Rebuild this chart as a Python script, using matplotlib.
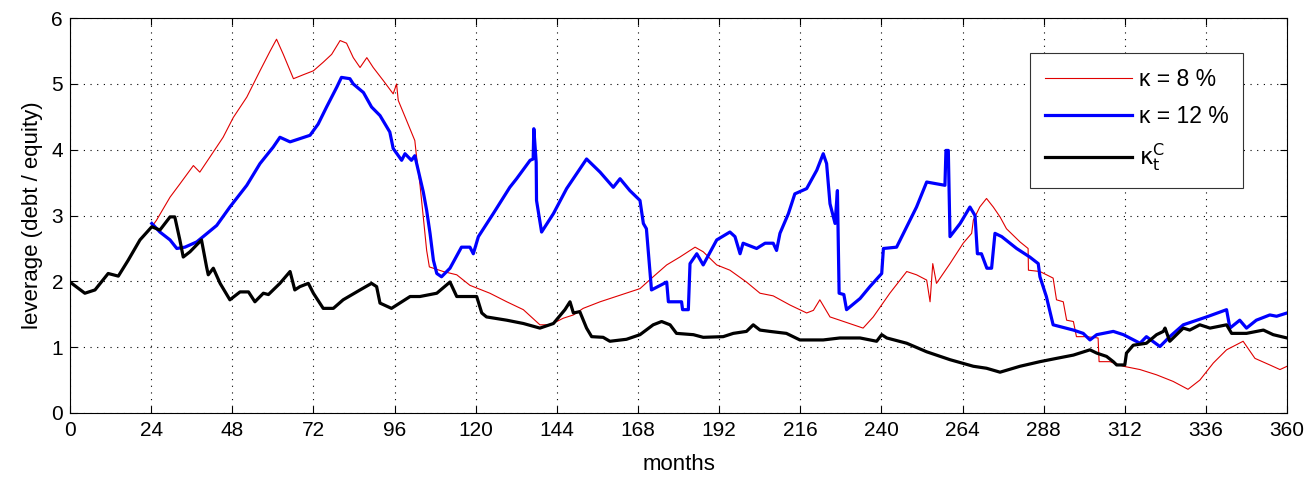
import numpy as np
import matplotlib.pyplot as plt

plt.rcParams['font.family'] = ['Liberation Sans', 'DejaVu Sans']

# kappa_t^C (black)
kc_m = [0, 4.4, 7.4, 11.3, 14.3, 17.2, 20.7, 24.2, 26.6, 29.6, 31, 32.5, 33.5, 35.5, 38.9, 40.4,
        40.9, 42.4, 44.4, 47.3, 50.3, 52.8, 54.7, 57.2, 58.7, 62.1, 65.1, 66.5, 68, 70.5, 72,
        74.9, 77.9, 80.8, 85.8, 89.2, 90.7, 91.7, 95.1, 100.6, 103.5, 108.5, 112.4, 114.4, 120.3,
        121.8, 123.2, 129.2, 134.1, 139, 143, 146.4, 147.9, 148.9, 150.8, 152.8, 154.3, 157.7,
        159.7, 164.6, 168.6, 172.5, 175, 177.5, 179.4, 184.4, 187.3, 193.2, 196.2, 200.1, 202.1,
        204.1, 207, 211.9, 215.9, 222.8, 227.7, 233.7, 238.6, 240.1, 241.6, 247.5, 253.4, 260.3,
        267.2, 271.1, 275.1, 281, 286.9, 291.8, 296.8, 301.7, 303.7, 306.6, 308.6, 309.6, 312,
        312.5, 314.5, 318.4, 321.4, 323.4, 323.9, 325.3, 327.3, 329.3, 331.2, 334.2, 337.2, 342.1,
        343.6, 348, 353, 355.9, 360]
kc_v = [1.99, 1.82, 1.87, 2.12, 2.08, 2.32, 2.63, 2.83, 2.78, 2.98, 2.98, 2.63, 2.37, 2.45, 2.63, 2.22,
        2.10, 2.20, 1.97, 1.72, 1.84, 1.84, 1.69, 1.82, 1.80, 1.97, 2.15, 1.87, 1.92, 1.97, 1.82,
        1.59, 1.59, 1.72, 1.87, 1.97, 1.92, 1.67, 1.59, 1.77, 1.77, 1.82, 1.99, 1.77, 1.77,
        1.52, 1.46, 1.41, 1.36, 1.29, 1.36, 1.57, 1.69, 1.52, 1.54, 1.29, 1.16, 1.15,
        1.09, 1.12, 1.19, 1.34, 1.39, 1.34, 1.21, 1.19, 1.15, 1.16, 1.21, 1.24, 1.34,
        1.26, 1.24, 1.21, 1.11, 1.11, 1.14, 1.14, 1.09, 1.19, 1.14, 1.06, 0.93, 0.81,
        0.71, 0.68, 0.62, 0.71, 0.78, 0.83, 0.88, 0.96, 0.91, 0.86, 0.78, 0.73, 0.73,
        0.91, 1.03, 1.06, 1.19, 1.24, 1.29, 1.09, 1.19, 1.29, 1.26, 1.34, 1.29, 1.34,
        1.21, 1.21, 1.26, 1.19, 1.14]

# kappa = 8 % (red)
k8_m = [24.2, 25.6, 29.6, 32.5, 36.5, 38.4, 41.4, 45.3, 48.3, 52.3, 56.2, 59.2, 61.1, 63.1, 66.1,
        69, 72, 74.9, 77.4, 79.9, 81.8, 83.8, 85.8, 87.8, 89.7, 92.7, 95.6, 96.6, 97.1, 99.6,
        102, 102.5, 103.5, 104.5, 105.5, 106.3, 110.4, 114.4, 118.3, 124.2, 129.2, 134.1, 139,
        142, 145.9, 148.9, 151.8, 156.8, 162.7, 168.6, 172.5, 176.5, 180.4, 184.9, 187.3, 191.3,
        195.2, 200.1, 204.1, 208, 213, 217.9, 219.9, 221.8, 224.8, 227.7, 234.6, 237.6, 242.5,
        247.5, 250.4, 253.4, 254.4, 255.2, 256.3, 260.3, 264.2, 266.7, 267.2, 269.1, 271.1,
        273.1, 275.1, 277, 281, 283.4, 283.5, 286.9, 290.8, 291.8, 293.8, 294.8, 296.8, 297.7,
        300.7, 304.1, 304.4, 307.6, 311.6, 316.5, 321.4, 326.3, 330.7, 334.2, 338.2, 342.1,
        347, 350.5, 354.9, 357.9, 360]
k8_v = [2.83, 2.93, 3.28, 3.48, 3.76, 3.66, 3.89, 4.19, 4.49, 4.80, 5.20, 5.50, 5.68, 5.45, 5.08,
        5.14, 5.20, 5.33, 5.45, 5.66, 5.62, 5.40, 5.25, 5.40, 5.25, 5.05, 4.85, 5.00, 4.75, 4.44,
        4.14, 3.90, 3.48, 2.98, 2.47, 2.22, 2.15, 2.10, 1.94, 1.82, 1.69, 1.57, 1.34,
        1.34, 1.44, 1.49, 1.59, 1.69, 1.79, 1.89, 2.07, 2.25, 2.37, 2.52, 2.45, 2.25,
        2.17, 1.99, 1.82, 1.78, 1.64, 1.52, 1.56, 1.72, 1.46, 1.41, 1.29, 1.46, 1.82,
        2.15, 2.10, 2.02, 1.69, 2.27, 1.97, 2.27, 2.58, 2.73, 2.93, 3.13, 3.26,
        3.13, 2.98, 2.80, 2.60, 2.50, 2.17, 2.15, 2.05, 1.72, 1.69, 1.41, 1.39, 1.16,
        1.16, 1.14, 0.78, 0.78, 0.71, 0.66, 0.58, 0.48, 0.36, 0.50, 0.76, 0.96,
        1.09, 0.83, 0.73, 0.66, 0.71]

# kappa = 12 % (blue)
k12_m = [24.2, 26.6, 29.6, 31.6, 34, 37.5, 39.4, 43.4, 47.3, 52.3, 56.2, 60.1, 62.1, 65.1, 68, 71,
         73.4, 75.9, 78.9, 80.3, 82.8, 83.8, 86.8, 89.2, 91.7, 94.6, 95.6, 98.1, 99.1, 101, 102,
         103, 104.5, 105.5, 106.5, 107.5, 108.5, 109.9, 112.4, 115.8, 118.3, 119.3, 120.8, 125.2,
         130.1, 132.1, 136.1, 137, 137.2, 137.9, 138, 139.5, 143, 146.9, 149.9, 152.8, 156.8,
         160.7, 162.7, 165.6, 168.6, 169.6, 170.5, 172, 176.5, 177, 180.9, 181.2, 182.9, 183.4,
         185.4, 187.3, 191.3, 195.2, 196.7, 198.2, 199.1, 203.1, 205.6, 208, 209, 210, 212.5,
         214.4, 217.9, 220.9, 222.8, 223.8, 224.8, 226.3, 227, 227.5, 228.9, 229.7, 233.7, 236.6,
         240.1, 240.6, 244.5, 247.5, 250.4, 253.4, 258.8, 259.1, 259.8, 260.3, 263.3, 266.2,
         267.7, 268.4, 269.6, 271.2, 272.6, 273.6, 275.6, 280, 283.9, 286.4, 286.9, 288.8, 290.8,
         296.8, 299.7, 301.7, 303.7, 305.6, 308.6, 311.6, 316.5, 318.4, 322.4, 325.3, 329.3,
         332.2, 336.2, 342.1, 343.1, 346, 348, 350.9, 354.9, 356.9, 360]
k12_v = [2.88, 2.75, 2.63, 2.50, 2.52, 2.60, 2.68, 2.85, 3.13, 3.46, 3.79, 4.04, 4.19, 4.12, 4.17, 4.22,
         4.39, 4.65, 4.95, 5.10, 5.08, 5.00, 4.87, 4.65, 4.52, 4.27, 4.02, 3.84, 3.94, 3.84, 3.91,
         3.69, 3.36, 3.08, 2.73, 2.32, 2.12, 2.07, 2.20, 2.52, 2.52, 2.42, 2.68, 3.03,
         3.43, 3.56, 3.84, 3.86, 4.32, 3.81, 3.23, 2.75, 3.03, 3.41, 3.64, 3.86, 3.66,
         3.43, 3.56, 3.38, 3.23, 2.88, 2.80, 1.87, 1.99, 1.69, 1.69, 1.57, 1.57, 2.27,
         2.42, 2.25, 2.63, 2.75, 2.68, 2.42, 2.58, 2.50, 2.58, 2.58, 2.47, 2.73, 3.03,
         3.33, 3.41, 3.69, 3.94, 3.79, 3.18, 2.88, 3.38, 1.82, 1.80, 1.57, 1.74, 1.92,
         2.12, 2.50, 2.52, 2.83, 3.13, 3.51, 3.46, 3.99, 3.99, 2.68, 2.88, 3.13,
         3.00, 2.42, 2.42, 2.20, 2.20, 2.73, 2.68, 2.50, 2.37, 2.27, 2.07, 1.77, 1.34,
         1.26, 1.21, 1.11, 1.19, 1.21, 1.24, 1.19, 1.06, 1.16, 1.01, 1.16, 1.34,
         1.39, 1.46, 1.57, 1.29, 1.41, 1.29, 1.41, 1.49, 1.47, 1.52]

x_ticks = list(range(0, 361, 24))
y_ticks = [0, 1, 2, 3, 4, 5, 6]

fig = plt.figure(figsize=(13.08, 4.78), dpi=100)
ax = fig.add_axes([0.0535, 0.136, 0.9305, 0.826])

ax.plot(k8_m, k8_v, color='#e00000', lw=0.8, label='\u03ba = 8 %')
ax.plot(k12_m, k12_v, color='#0000ff', lw=2.3, label='\u03ba = 12 %')
ax.plot(kc_m, kc_v, color='black', lw=2.3, label=r'$\mathrm{\kappa_t^C}$')

ax.set_xlim(0, 360)
ax.set_ylim(0, 6)
ax.set_xticks(x_ticks)
ax.set_yticks(y_ticks)
ax.tick_params(direction='in', top=True, right=True, labelsize=15, length=5)
ax.tick_params(axis='x', pad=6)
ax.tick_params(axis='y', pad=5)
ax.grid(True, linestyle=(0, (1, 5)), color='black', lw=0.8)
for s in ax.spines.values():
    s.set_linewidth(0.8)

ax.set_xlabel('months', fontsize=16, labelpad=10)
ax.set_ylabel('leverage (debt / equity)', fontsize=16, labelpad=6)

leg = ax.legend(loc='upper right', bbox_to_anchor=(0.964, 0.911), borderaxespad=0,
                fontsize=16.5, handlelength=3.8, labelspacing=0.6, fancybox=False,
                framealpha=1, edgecolor='#333333', borderpad=0.65, handletextpad=0.3)
leg.get_frame().set_linewidth(0.8)

fig.savefig('out.png', dpi=100)
